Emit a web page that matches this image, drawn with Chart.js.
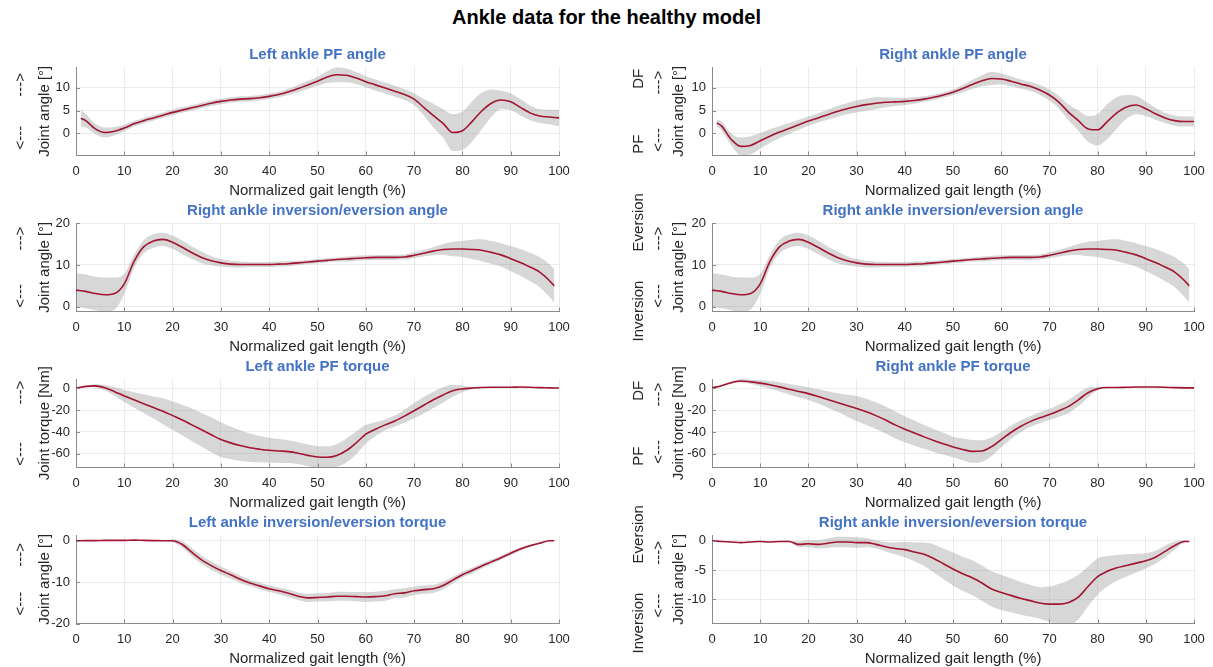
<!DOCTYPE html>
<html>
<head>
<meta charset="utf-8">
<script src="https://cdn.jsdelivr.net/npm/chart.js@4.4.0/dist/chart.umd.min.js"></script>
<style>
  body { margin: 0; width: 1213px; height: 667px; overflow: hidden; background: #fff; position: relative;
         font-family: 'Liberation Sans', Arial, sans-serif; }
  #suptitle { position: absolute; left: 0; top: 6px; width: 1213px; text-align: center;
              font-weight: bold; font-size: 20px; color: #000; }
  canvas { position: absolute; }
</style>
</head>
<body>

<div id="suptitle">Ankle data for the healthy model</div>
<canvas id="p1"></canvas>
<canvas id="p2"></canvas>
<canvas id="p3"></canvas>
<canvas id="p4"></canvas>
<canvas id="p5"></canvas>
<canvas id="p6"></canvas>
<canvas id="p7"></canvas>
<canvas id="p8"></canvas>

<script>
// gait cycle positions (%)
const gaitA = [1,2,4,6,8,10,12,14,16,18,20,22,24,26,28,30,32,34,36,38,40,42,44,46,48,50,52,54,56,58,60,62,64,66,68,70,72,74,76,78,80,82,84,86,88,90,92,94,96,98,100];
const gaitB = [0,2,4,6,8,10,12,14,16,18,20,22,24,26,28,30,32,34,36,38,40,42,44,46,48,50,52,54,56,58,60,62,64,66,68,70,72,74,76,78,80,82,84,86,88,90,92,94,96,98,99];
const gaitC = [0,2,4,6,8,10,12,14,16,18,20,22,24,26,28,30,32,34,36,38,40,42,44,46,48,50,52,54,56,58,60,62,64,66,68,70,72,74,76,78,80,82,84,86,88,90,92,94,96,98,100];

// Left ankle PF angle
const leftPfAngle = [3.3,2.8,1.0,0.2,0.5,1.2,2.1,2.8,3.4,4.0, 4.6,5.1,5.6,6.1,6.6,7.0,7.3,7.5,7.6,7.8,
  8.1,8.5,9.1,9.8,10.6,11.4,12.3,12.8,12.7,12.1, 11.3,10.6,9.9,9.2,8.5,7.5,5.7,3.9,2.2,0.2,
  0.6,2.6,4.9,6.6,7.3,6.9,5.7,4.5,3.8,3.6, 3.4];
const leftPfAngleSd = [1.8,1.5,1.1,1.1,0.9,0.7,0.6,0.6,0.6,0.6, 0.6,0.6,0.6,0.6,0.6,0.6,0.6,0.6,0.6,0.6,
  0.6,0.6,0.7,0.8,0.9,1.0,1.3,1.6,1.5,1.3, 1.2,1.2,1.2,1.2,1.2,1.3,1.8,2.6,3.1,4.0,
  4.2,4.4,4.0,3.0,2.0,1.8,1.8,1.6,1.5,1.6, 1.8];

// Right ankle PF angle
const rightPfAngle = [2.3,1.6,-1.3,-2.8,-2.6,-1.6,-0.6,0.3,1.1,1.9, 2.7,3.4,4.1,4.8,5.4,5.9,6.3,6.6,6.8,6.9,
  7.0,7.2,7.5,7.9,8.4,9.0,9.8,10.7,11.5,12.0, 11.9,11.4,10.8,10.3,9.5,8.4,6.8,4.6,2.8,1.0,
  0.8,2.6,4.5,5.8,6.2,5.4,4.3,3.4,2.8,2.6, 2.6];
const rightPfAngleSd = [0.8,1.0,1.3,1.9,2.0,1.7,1.5,1.3,1.2,1.1, 1.0,1.0,1.1,1.2,1.2,1.3,1.3,1.3,1.1,0.9,
  0.8,0.7,0.6,0.6,0.6,0.6,0.8,1.0,1.2,1.4, 1.2,1.1,1.0,1.0,1.1,1.2,1.4,1.7,2.2,2.8,
  3.4,3.8,3.4,2.6,2.0,1.6,1.3,1.1,1.1,1.1, 1.1];

// Right ankle inversion/eversion angle (shown in both columns)
const invAngle = [4.0,3.7,3.2,2.9,3.2,5.5,10.8,14.3,15.7,16.1, 15.4,14.2,12.9,11.8,11.0,10.5,10.2,10.1,10.1,10.1,
  10.1,10.2,10.3,10.5,10.7,10.9,11.1,11.3,11.4,11.6, 11.7,11.8,11.8,11.8,11.9,12.3,12.8,13.3,13.7,13.8,
  13.8,13.7,13.5,13.0,12.4,11.5,10.6,9.5,8.3,6.3, 5.0];
const invAngleSd = [4.0,4.0,4.0,4.1,3.8,2.4,1.6,1.6,1.6,1.6, 1.6,1.6,1.5,1.4,1.1,0.9,0.8,0.7,0.6,0.6,
  0.6,0.6,0.6,0.5,0.5,0.5,0.5,0.5,0.6,0.6, 0.6,0.6,0.6,0.6,0.6,0.7,0.8,1.0,1.3,1.7,
  1.9,2.3,2.6,2.7,2.8,3.0,3.2,3.4,3.6,3.9, 4.0];

// Left ankle PF torque
const leftPfTorque = [0.3,1.8,2.3,0.5,-3.0,-7.0,-10.5,-14.0,-17.5,-21.0, -25.0,-29.0,-33.5,-38.0,-42.5,-47.0,-50.0,-52.5,-54.5,-55.8,
  -56.8,-57.4,-58.0,-59.5,-61.5,-63.0,-63.2,-61.5,-57.0,-50.0, -42.0,-37.5,-33.5,-30.0,-25.5,-20.5,-15.5,-10.5,-6.0,-2.2,
  -0.5,0.3,0.8,1.0,1.0,1.0,1.2,1.0,0.7,0.5, 0.3];
const leftPfTorqueSd = [0.0,0.5,1.5,2.5,4.0,5.5,7.0,8.5,10.0,12.0, 13.0,14.0,15.0,15.5,16.0,16.0,15.0,14.0,13.0,12.0,
  11.5,11.0,10.5,10.0,10.0,10.0,10.0,10.5,11.0,10.5, 8.5,6.5,5.0,5.0,6.0,7.0,7.5,7.5,7.0,5.5,
  3.0,1.0,0.5,0.4,0.3,0.3,0.3,0.3,0.3,0.3, 0.3];

// Right ankle PF torque
const rightPfTorque = [0.5,2.5,5.2,6.8,6.0,4.8,3.3,1.4,-0.8,-2.8, -4.8,-7.4,-10.2,-13.0,-15.8,-18.5,-21.5,-25.0,-29.0,-33.5,
  -37.5,-41.0,-44.5,-47.8,-50.8,-53.8,-56.0,-57.8,-57.5,-53.5, -47.0,-40.5,-35.0,-30.5,-27.0,-24.0,-20.5,-16.5,-10.5,-4.0,
  -0.3,0.8,0.8,1.0,1.2,1.3,1.2,1.0,0.7,0.5, 0.5];
const rightPfTorqueSd = [0.2,0.6,1.0,1.5,2.0,2.8,3.5,4.2,4.8,5.3, 5.8,6.5,7.5,8.5,10.0,11.5,12.0,12.2,12.3,12.2,
  12.0,11.5,11.0,10.5,10.0,9.5,10.0,10.5,10.0,8.5, 7.0,6.0,5.5,5.0,5.0,5.0,5.5,6.0,6.0,4.5,
  1.5,0.5,0.3,0.3,0.3,0.3,0.3,0.3,0.3,0.3, 0.3];

// Left ankle inversion/eversion torque
const leftInvTorque = [0.0,0.05,0.05,0.1,0.1,0.1,0.15,0.1,0.05,0.0, 0.0,-0.9,-2.8,-4.6,-6.0,-7.2,-8.2,-9.3,-10.2,-10.9,
  -11.6,-12.1,-12.7,-13.4,-13.8,-13.7,-13.6,-13.4,-13.4,-13.5, -13.6,-13.5,-13.3,-12.8,-12.6,-12.1,-11.8,-11.6,-10.8,-9.5,
  -8.2,-7.2,-6.1,-5.1,-4.1,-3.0,-2.0,-1.2,-0.6,0.0, 0.0];
const leftInvTorqueSd = [0,0,0,0,0,0,0,0,0,0.05, 0.3,0.8,1.0,1.0,1.0,1.0,0.9,0.9,0.8,0.8,
  0.8,0.8,0.9,0.9,1.0,1.0,1.0,1.1,1.1,1.1, 1.2,1.2,1.2,1.1,1.1,1.0,1.0,1.0,0.9,0.8,
  0.7,0.7,0.6,0.6,0.5,0.5,0.4,0.3,0.2,0.1, 0.0];

// Right ankle inversion/eversion torque
const rightInvTorque = [0.0,-0.1,-0.2,-0.3,-0.2,-0.1,-0.2,-0.1,-0.1,-0.6, -0.5,-0.6,-0.4,-0.2,-0.2,-0.3,-0.3,-0.6,-1.0,-1.3,
  -1.5,-1.9,-2.3,-3.0,-3.9,-4.8,-5.6,-6.3,-7.2,-8.2, -8.8,-9.3,-9.8,-10.2,-10.6,-10.8,-10.8,-10.5,-9.6,-7.8,
  -6.1,-5.2,-4.6,-4.2,-3.8,-3.4,-2.8,-1.8,-0.8,-0.1, -0.1];
const rightInvTorqueSd = [0.05,0.05,0.05,0.05,0.05,0.05,0.05,0.05,0.1,0.5, 0.6,0.7,0.8,0.9,0.9,0.9,0.8,0.7,0.8,1.0,
  1.3,1.6,2.0,2.4,2.6,2.8,2.9,3.0,3.0,3.0, 3.0,2.9,2.8,2.7,2.7,3.0,3.5,3.8,3.8,3.4,
  3.1,2.6,2.2,1.9,1.6,1.3,1.1,1.0,0.7,0.2, 0.1];

// y tick labels
const ticksPfAngle = [0, 5, 10];
const ticksInvAngle = [0, 10, 20];
const ticksTorque = [-60, -40, -20, 0];
const ticksLeftInvTorque = [-20, -10, 0];
const ticksRightInvTorque = [-10, -5, 0];

const FONT = "'Liberation Sans', Arial, sans-serif";
const TEXT = '#262626';
const GRID = '#ebebeb';
const AXIS = '#8a8a8a';
const LINE = '#a2142f';
const BAND = 'rgba(150,150,150,0.38)';
const SUBTITLE = '#4472c4';

Chart.defaults.font.family = FONT;

// MATLAB style ticks pointing into the plot
const inwardTicks = {
  id: 'inwardTicks',
  afterDatasetsDraw(chart) {
    const {ctx, chartArea: a, scales: {x, y}} = chart;
    ctx.save();
    ctx.strokeStyle = AXIS;
    ctx.lineWidth = 1;
    ctx.beginPath();
    x.ticks.forEach(t => {
      const px = Math.round(x.getPixelForValue(t.value)) + 0.5;
      ctx.moveTo(px, a.bottom); ctx.lineTo(px, a.bottom - 4);
    });
    y.ticks.forEach(t => {
      const py = Math.round(y.getPixelForValue(t.value)) + 0.5;
      ctx.moveTo(a.left, py); ctx.lineTo(a.left + 4, py);
    });
    ctx.stroke();
    ctx.restore();
  }
};

function pts(xs, ys) {
  return xs.map((v, i) => ({x: v, y: ys[i]}));
}

function makePanel(id, col, row, title, gait, mean, sd, yMin, yMax, yTicks, yTitle) {
  const cv = document.getElementById(id);
  const leftCol = col === 0;
  cv.width = leftCol ? 579 : 607;
  cv.height = 194;
  cv.style.left = (leftCol ? 0 : 606) + 'px';
  cv.style.top = (7 + row * 156) + 'px';

  const upper = mean.map((m, i) => m + sd[i]);
  const lower = mean.map((m, i) => m - sd[i]);

  new Chart(cv, {
    type: 'line',
    data: {
      datasets: [
        { data: pts(gait, mean), borderColor: LINE, borderWidth: 1.6, pointRadius: 0,
          cubicInterpolationMode: 'monotone', fill: false, order: 0 },
        { data: pts(gait, upper), borderColor: 'rgba(0,0,0,0)', borderWidth: 0, pointRadius: 0,
          backgroundColor: BAND, cubicInterpolationMode: 'monotone', fill: '+1', order: 1 },
        { data: pts(gait, lower), borderColor: 'rgba(0,0,0,0)', borderWidth: 0, pointRadius: 0,
          cubicInterpolationMode: 'monotone', fill: false, order: 2 }
      ]
    },
    options: {
      responsive: false,
      animation: false,
      events: [],
      layout: { padding: { top: 0, left: 0, right: leftCol ? 20 : 19, bottom: 0.5 } },
      plugins: {
        legend: { display: false },
        tooltip: { enabled: false },
        title: {
          display: true, text: title, color: SUBTITLE, fullSize: false,
          font: { family: FONT, size: 15, weight: 'bold', lineHeight: 1.2 },
          padding: { top: 39, bottom: 3 }
        }
      },
      scales: {
        x: {
          type: 'linear', min: 0, max: 100,
          ticks: { stepSize: 10, padding: 8, color: TEXT, font: { size: 13 }, maxRotation: 0, autoSkip: false },
          grid: { color: GRID, drawTicks: false },
          border: { color: AXIS },
          title: { display: true, text: 'Normalized gait length (%)', color: TEXT,
                   font: { size: 15, lineHeight: 1.2 }, padding: { top: 0, bottom: 1 } },
          afterFit: s => { s.height = 45; }
        },
        y: {
          type: 'linear', min: yMin, max: yMax,
          afterBuildTicks: s => { s.ticks = yTicks.map(v => ({ value: v })); },
          ticks: { padding: 6, color: TEXT, font: { size: 13 } },
          grid: { color: GRID, drawTicks: false },
          border: { color: AXIS },
          title: { display: true, text: yTitle, color: TEXT,
                   font: { size: 15, lineHeight: leftCol ? 1.6 : 1.333 },
                   padding: { top: leftCol ? 9 : 23, bottom: 0 } },
          afterFit: s => { s.width = leftCol ? 76 : 106; }
        }
      }
    },
    plugins: [inwardTicks]
  });
}

makePanel('p1', 0, 0, 'Left ankle PF angle', gaitA, leftPfAngle, leftPfAngleSd, -4.8, 14.5, ticksPfAngle,
  ['<---       --->', 'Joint angle [°]']);
makePanel('p2', 1, 0, 'Right ankle PF angle', gaitA, rightPfAngle, rightPfAngleSd, -4.8, 14.5, ticksPfAngle,
  ['PF           DF', '<---        --->', 'Joint angle [°]']);
makePanel('p3', 0, 1, 'Right ankle inversion/eversion angle', gaitB, invAngle, invAngleSd, -1.1, 20, ticksInvAngle,
  ['<---        --->', 'Joint angle [°]']);
makePanel('p4', 1, 1, 'Right ankle inversion/eversion angle', gaitB, invAngle, invAngleSd, -1.1, 20, ticksInvAngle,
  ['Inversion       Eversion', '<---        --->', 'Joint angle [°]']);
makePanel('p5', 0, 2, 'Left ankle PF torque', gaitC, leftPfTorque, leftPfTorqueSd, -72.6, 8.6, ticksTorque,
  ['<---         --->', 'Joint torque [Nm]']);
makePanel('p6', 1, 2, 'Right ankle PF torque', gaitC, rightPfTorque, rightPfTorqueSd, -72.6, 8.6, ticksTorque,
  ['PF           DF', '<---        --->', 'Joint torque [Nm]']);
makePanel('p7', 0, 3, 'Left ankle inversion/eversion torque', gaitB, leftInvTorque, leftInvTorqueSd, -20, 1.4, ticksLeftInvTorque,
  ['<---      --->', 'Joint angle [°]']);
makePanel('p8', 1, 3, 'Right ankle inversion/eversion torque', gaitB, rightInvTorque, rightInvTorqueSd, -14.1, 1.0, ticksRightInvTorque,
  ['Inversion       Eversion', '<---       --->', 'Joint angle [°]']);
</script>

</body>
</html>
